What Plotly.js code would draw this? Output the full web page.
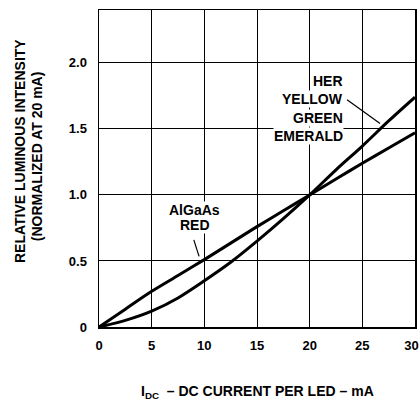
<!DOCTYPE html>
<html><head><meta charset="utf-8">
<script src="https://cdn.plot.ly/plotly-3.0.1.min.js"></script>
<style>html,body{margin:0;padding:0;background:#fff}#chart{width:419px;height:400px}</style>
</head><body><div id="chart"></div>
<script>
const currentMA = [0, 2.5, 5, 7.5, 10, 12.5, 15, 17.5, 20, 22.5, 25, 27.5, 30];
const herYellowGreenEmerald = [0, 0.05, 0.12, 0.22, 0.35, 0.49, 0.65, 0.82, 1.0, 1.19, 1.37, 1.56, 1.74];
const alGaAsRed = [0, 0.135, 0.27, 0.39, 0.51, 0.635, 0.76, 0.88, 1.0, 1.12, 1.24, 1.355, 1.47];
const xTickVals = [0, 5, 10, 15, 20, 25, 30];
const xTickText = ['0', '5', '10', '15', '20', '25', '30\u00a0\u00a0'];
const yTickVals = [0, 0.5, 1.0, 1.5, 2.0];
const yTickText = ['0', '0.5', '1.0', '1.5', '2.0'];
const herLabels = ['HER', 'YELLOW', 'GREEN', 'EMERALD'];
const herLabelY = [1.864, 1.728, 1.585, 1.449];
const redLabels = ['AlGaAs', 'RED'];
const redLabelY = [0.883, 0.774];

const F = 'Liberation Sans, Arial, Helvetica, sans-serif';
const lineStyle = {color: '#000', width: 3, shape: 'spline', smoothing: 0.8};
const traces = [
  {x: currentMA, y: herYellowGreenEmerald, mode: 'lines', line: lineStyle, hoverinfo: 'skip'},
  {x: currentMA, y: alGaAsRed, mode: 'lines', line: lineStyle, hoverinfo: 'skip'}
];
const ann = [];
herLabels.forEach((t, i) => ann.push({x: 23.26, y: herLabelY[i], xref: 'x', yref: 'y', text: t, showarrow: false,
  xanchor: 'right', yanchor: 'middle', font: {family: F, size: 14, color: '#000', weight: 'bold'}, bgcolor: '#fff', borderpad: 0}));
redLabels.forEach((t, i) => ann.push({x: 9.1, y: redLabelY[i], xref: 'x', yref: 'y', text: t, showarrow: false,
  xanchor: 'center', yanchor: 'middle', font: {family: F, size: 14, color: '#000', weight: 'bold'}, bgcolor: '#fff', borderpad: 0}));
ann.push({x: -0.25, y: 0.555, xref: 'paper', yref: 'paper', text: 'RELATIVE LUMINOUS INTENSITY', textangle: -90,
  showarrow: false, xanchor: 'center', yanchor: 'middle', font: {family: F, size: 14, color: '#000', weight: 'bold'}});
ann.push({x: -0.196, y: 0.539, xref: 'paper', yref: 'paper', text: '(NORMALIZED AT 20 mA)', textangle: -90,
  showarrow: false, xanchor: 'center', yanchor: 'middle', font: {family: F, size: 14, color: '#000', weight: 'bold'}});
ann.push({x: 0.5, y: -0.205, xref: 'paper', yref: 'paper', text: 'I<sub>DC</sub>  – DC CURRENT PER LED – mA',
  showarrow: false, xanchor: 'center', yanchor: 'middle', font: {family: F, size: 14, color: '#000', weight: 'bold'}});

const layout = {
  width: 419, height: 400,
  margin: {l: 99, r: 4, t: 10, b: 73},
  paper_bgcolor: '#fff', plot_bgcolor: '#fff',
  showlegend: false,
  xaxis: {range: [0, 30], tickvals: xTickVals, ticktext: xTickText, showgrid: true, gridcolor: '#000', gridwidth: 1,
    zeroline: false, showline: true, linecolor: '#000', linewidth: 1.5, mirror: true, ticks: '',
    ticklabeloverflow: 'allow',
    tickfont: {family: F, size: 13, color: '#000', weight: 'bold'}, ticklabelstandoff: 6, fixedrange: true},
  yaxis: {range: [0, 2.4], tickvals: yTickVals, ticktext: yTickText, showgrid: true, gridcolor: '#000', gridwidth: 1,
    zeroline: false, showline: true, linecolor: '#000', linewidth: 1.5, mirror: true, ticks: '',
    tickfont: {family: F, size: 13, color: '#000', weight: 'bold'}, ticklabelstandoff: 8, fixedrange: true},
  annotations: ann,
  shapes: [
    {type: 'line', xref: 'x', yref: 'y', x0: 9.0, y0: 0.66, x1: 9.5, y1: 0.535, line: {color: '#000', width: 1.2}, layer: 'above'},
    {type: 'line', xref: 'x', yref: 'y', x0: 23.55, y0: 1.721, x1: 26.68, y1: 1.54, line: {color: '#000', width: 1.2}, layer: 'above'}
  ]
};
Plotly.newPlot('chart', traces, layout, {staticPlot: true, displayModeBar: false});
</script></body></html>
